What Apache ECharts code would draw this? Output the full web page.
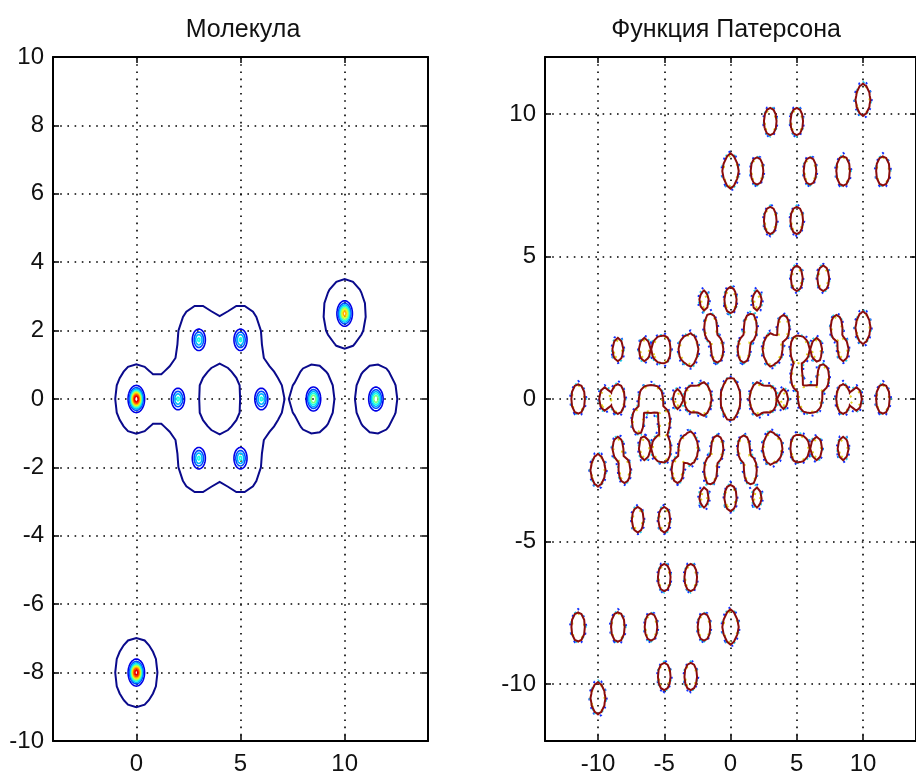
<!DOCTYPE html>
<html>
<head>
<meta charset="utf-8">
<script src="https://cdn.jsdelivr.net/npm/echarts@6/dist/echarts.min.js"></script>
<style>
  html, body { margin: 0; padding: 0; background: #fff; }
  #chart { width: 916px; height: 776px; }
</style>
</head>
<body>
<div id="chart"></div>
<script>
// atoms of the molecule
const atomX = [0, 2, 3, 5, 6, 5, 3, 8.5, 11.5, 10, 0];
const atomY = [0, 0, 1.732, 1.732, 0, -1.732, -1.732, 0, 0, 2.5, -8];
// relative weights, judged from how far the colour levels climb in each blob
const atomZ = [1.0, 0.42, 0.42, 0.42, 0.42, 0.42, 0.42, 0.6, 0.58, 0.75, 0.97];

// contour levels
const coreLevels = [0.1, 0.2, 0.3, 0.4, 0.5, 0.6, 0.7, 0.8, 0.9];
const shellLevel = 0.5;
const pattLevel = 0.0735;
// faint extra levels around the Patterson outline (factor of pattLevel, colour)
const fringeFactor = [0.55, 0.72, 1.45];
const fringeColor = ['#1030ff', '#20d0f0', '#e0d020'];

// tick values
const molXTicks = [0, 5, 10];
const molYTicks = [-10, -8, -6, -4, -2, 0, 2, 4, 6, 8, 10];
const patXTicks = [-10, -5, 0, 5, 10];
const patYTicks = [-10, -5, 0, 5, 10];

const FONT = 'Liberation Sans, Arial, sans-serif';

function jet(t) {
  const c = x => Math.round(255 * Math.max(0, Math.min(1, x)));
  return 'rgb(' + c(1.5 - Math.abs(4 * t - 3)) + ',' + c(1.5 - Math.abs(4 * t - 2)) + ',' + c(1.5 - Math.abs(4 * t - 1)) + ')';
}

// sample a field on a regular grid
function sample(x0, x1, y0, y1, h, f) {
  const nx = Math.round((x1 - x0) / h) + 1;
  const ny = Math.round((y1 - y0) / h) + 1;
  const v = new Float64Array(nx * ny);
  for (let j = 0; j < ny; j++) {
    for (let i = 0; i < nx; i++) v[j * nx + i] = f(x0 + i * h, y0 + j * h);
  }
  return { nx, ny, x0, y0, h, v };
}

// marching squares, segments stitched into polylines
function contour(g, level) {
  const { nx, ny, x0, y0, h, v } = g;
  const pts = new Map();
  const adj = new Map();
  function pt(key, xa, ya, va, xb, yb, vb) {
    if (!pts.has(key)) {
      const t = (level - va) / (vb - va);
      pts.set(key, [xa + t * (xb - xa), ya + t * (yb - ya)]);
    }
    return key;
  }
  function link(k1, k2) {
    if (!adj.has(k1)) adj.set(k1, []);
    if (!adj.has(k2)) adj.set(k2, []);
    adj.get(k1).push(k2);
    adj.get(k2).push(k1);
  }
  for (let j = 0; j < ny - 1; j++) {
    for (let i = 0; i < nx - 1; i++) {
      const a = v[j * nx + i], b = v[j * nx + i + 1];
      const c = v[(j + 1) * nx + i + 1], d = v[(j + 1) * nx + i];
      const idx = (a >= level ? 1 : 0) | (b >= level ? 2 : 0) | (c >= level ? 4 : 0) | (d >= level ? 8 : 0);
      if (idx === 0 || idx === 15) continue;
      const xl = x0 + i * h, xr = xl + h, yb = y0 + j * h, yt = yb + h;
      const e = {};
      if ((a >= level) !== (b >= level)) e.B = pt((j * nx + i) * 2, xl, yb, a, xr, yb, b);
      if ((d >= level) !== (c >= level)) e.T = pt(((j + 1) * nx + i) * 2, xl, yt, d, xr, yt, c);
      if ((a >= level) !== (d >= level)) e.L = pt((j * nx + i) * 2 + 1, xl, yb, a, xl, yt, d);
      if ((b >= level) !== (c >= level)) e.R = pt((j * nx + i + 1) * 2 + 1, xr, yb, b, xr, yt, c);
      if (idx === 5 || idx === 10) {
        const centerHigh = (a + b + c + d) / 4 >= level;
        const acJoined = (idx === 5) === centerHigh;
        if (acJoined) { link(e.B, e.R); link(e.T, e.L); }
        else { link(e.B, e.L); link(e.R, e.T); }
      } else {
        const ks = Object.values(e);
        link(ks[0], ks[1]);
      }
    }
  }
  const used = new Set();
  const lines = [];
  function walk(start) {
    const line = [pts.get(start)];
    used.add(start);
    let cur = start;
    for (;;) {
      let nxt = -1;
      for (const n of adj.get(cur)) if (!used.has(n)) { nxt = n; break; }
      if (nxt < 0) {
        if (adj.get(cur).includes(start) && line.length > 2) line.push(pts.get(start));
        break;
      }
      used.add(nxt);
      line.push(pts.get(nxt));
      cur = nxt;
    }
    lines.push(line);
  }
  for (const [k, nb] of adj) if (nb.length === 1 && !used.has(k)) walk(k);
  for (const k of adj.keys()) if (!used.has(k)) walk(k);
  return lines;
}

// molecule: outer shell around every atom and the sharp core of each atom
const shellR2 = 1.25;
const coreS2 = 2 * 0.185 * 0.185;
const shellGrid = sample(-4, 14, -10, 10, 0.4, (x, y) => {
  let s = 0;
  for (let k = 0; k < atomX.length; k++) {
    const q = ((x - atomX[k]) ** 2 + (y - atomY[k]) ** 2) / shellR2;
    s += Math.exp(-q * q);
  }
  return s;
});
const coreGrid = sample(-4, 14, -10, 10, 0.04, (x, y) => {
  let s = 0;
  for (let k = 0; k < atomX.length; k++) {
    const r2 = (x - atomX[k]) ** 2 + (y - atomY[k]) ** 2;
    if (r2 < 1) s += atomZ[k] * Math.exp(-r2 / coreS2);
  }
  return s;
});

// Patterson function: every interatomic vector, weighted by the product of the weights
const pattS2 = 2 * 0.25 * 0.25;
const vecX = [], vecY = [], vecW = [];
for (let i = 0; i < atomX.length; i++) {
  for (let j = 0; j < atomX.length; j++) {
    vecX.push(atomX[i] - atomX[j]);
    vecY.push(atomY[i] - atomY[j]);
    vecW.push(atomZ[i] * atomZ[j]);
  }
}
const pattGrid = sample(-14, 14, -12, 12, 0.25, (x, y) => {
  let s = 0;
  for (let k = 0; k < vecX.length; k++) {
    const r2 = (x - vecX[k]) ** 2 + (y - vecY[k]) ** 2;
    if (r2 < 2) s += vecW[k] * Math.exp(-r2 / pattS2);
  }
  return s;
});

function linesSeries(polys, grid, color, width, dash) {
  return {
    type: 'lines',
    coordinateSystem: 'cartesian2d',
    xAxisIndex: grid * 2,
    yAxisIndex: grid * 2,
    polyline: true,
    silent: true,
    animation: false,
    lineStyle: { color: color, width: width, opacity: 1, type: dash || 'solid' },
    data: polys.map(p => ({ coords: p }))
  };
}

const series = [];
series.push(linesSeries(contour(shellGrid, shellLevel), 0, '#0a0a8c', 2));
coreLevels.forEach(L => series.push(linesSeries(contour(coreGrid, L), 0, jet(L), 1.6)));
fringeFactor.forEach((f, k) => {
  series.push(linesSeries(contour(pattGrid, pattLevel * f), 1, fringeColor[k], 2, [2, 7 + 2 * k]));
});
series.push(linesSeries(contour(pattGrid, pattLevel), 1, '#8a0c0c', 2));

function axisPair(grid, dim, min, max, ticks) {
  const common = {
    gridIndex: grid, type: 'value', min: min, max: max,
    axisLine: { show: true, onZero: false, lineStyle: { color: '#000', width: 2 } },
    axisTick: { show: true, inside: true, length: 6, customValues: ticks, lineStyle: { color: '#000', width: 1.5 } }
  };
  const main = Object.assign({}, common, {
    position: dim === 'x' ? 'bottom' : 'left',
    axisLabel: { show: true, customValues: ticks, fontFamily: FONT, fontSize: 24, color: '#111', margin: dim === 'x' ? 11 : 9 },
    splitLine: { show: true, lineStyle: { color: '#000', width: 1.6, type: [1.6, 5.6] } }
  });
  const mirror = Object.assign({}, common, {
    position: dim === 'x' ? 'top' : 'right',
    axisLabel: { show: false },
    splitLine: { show: false }
  });
  return [main, mirror];
}

const chart = echarts.init(document.getElementById('chart'), null, { renderer: 'canvas' });
chart.setOption({
  backgroundColor: '#fff',
  animation: false,
  grid: [
    { left: 53, top: 57, width: 375, height: 686 },
    { left: 545, top: 57, width: 375, height: 686 }
  ],
  xAxis: [].concat(axisPair(0, 'x', -4, 14, molXTicks), axisPair(1, 'x', -14, 14, patXTicks)),
  yAxis: [].concat(axisPair(0, 'y', -10, 10, molYTicks), axisPair(1, 'y', -12, 12, patYTicks)),
  graphic: [
    { type: 'text', x: 243, y: 30, style: { text: 'Молекула', font: '25px ' + FONT, fill: '#111', textAlign: 'center', textVerticalAlign: 'middle' } },
    { type: 'text', x: 726, y: 30, style: { text: 'Функция Патерсона', font: '25px ' + FONT, fill: '#111', textAlign: 'center', textVerticalAlign: 'middle' } }
  ],
  series: series
});
</script>
</body>
</html>
